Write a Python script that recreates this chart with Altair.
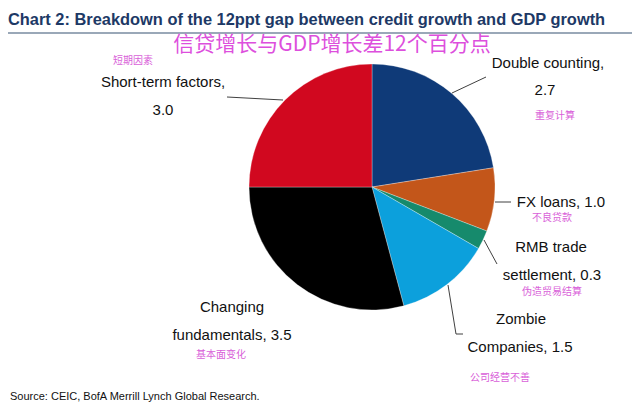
import altair as alt
import pandas as pd

# ---- data ----
categories = ["Double counting", "FX loans", "RMB trade settlement", "Zombie Companies",
              "Changing fundamentals", "Short-term factors"]
values = [2.7, 1.0, 0.3, 1.5, 3.5, 3.0]
colors = ["#0f3a78", "#c3561a", "#168a6c", "#0ca0dc", "#000000", "#d1081f"]

title_text = "Chart 2: Breakdown of the 12ppt gap between credit growth and GDP growth"
subtitle_cn = "信贷增长与GDP增长差12个百分点"
source_text = "Source: CEIC, BofA Merrill Lynch Global Research."

# label lines (English) and Chinese notes
label_lines = [
    ["Short-term factors,", "3.0"],
    ["Double counting,", "2.7"],
    ["FX loans, 1.0"],
    ["RMB trade", "settlement, 0.3"],
    ["Zombie", "Companies, 1.5"],
    ["Changing", "fundamentals, 3.5"],
]
cn_notes = ["短期因素", "重复计算", "不良贷款", "伪造贸易结算", "公司经营不善", "基本面变化"]

# ---- layout (page pixel coordinates) ----
OFF = 8
W, H = 624, 397
CX, CY, R = 372, 187, 123

label_pos = [
    [(163, 82), (163, 110)],
    [(548, 63), (545, 90)],
    [(561, 202)],
    [(551, 247), (552, 275)],
    [(521, 319), (520, 347)],
    [(232, 307), (232, 335)],
]
cn_pos = [(133, 61), (555, 116), (552, 218), (552, 292), (500, 378), (221, 355)]

leader_segments = [
    (227, 97, 283, 100),
    (452, 93, 486, 77),
    (495, 202, 511, 202),
    (484, 240, 497, 264),
    (448, 285, 456, 334),
    (456, 334, 463, 334),
]

pie_df = pd.DataFrame({"cat": categories, "value": values, "idx": list(range(len(values)))})

pie = alt.Chart(pie_df).mark_arc(radius=R, stroke="white", strokeWidth=0.3).encode(
    theta=alt.Theta("value:Q", stack=True),
    color=alt.Color("cat:N", scale=alt.Scale(domain=categories, range=colors), legend=None),
    order=alt.Order("idx:Q"),
    x=alt.value(CX - OFF),
    y=alt.value(CY - OFF),
)

rows = []
for lines, poss in zip(label_lines, label_pos):
    for t, (px, py) in zip(lines, poss):
        rows.append({"t": t, "px": px - OFF, "py": py - OFF})
lab_df = pd.DataFrame(rows)
labels = alt.Chart(lab_df).mark_text(
    font="Liberation Sans", fontSize=15, color="#111111", align="center", baseline="middle"
).encode(
    x=alt.X("px:Q", scale=None), y=alt.Y("py:Q", scale=None), text="t:N"
)

cn_df = pd.DataFrame({"t": cn_notes, "px": [p[0] - OFF for p in cn_pos], "py": [p[1] - OFF for p in cn_pos]})
cn = alt.Chart(cn_df).mark_text(
    font="Noto Sans CJK SC", fontSize=10, color="#d95fd9", align="center", baseline="middle"
).encode(
    x=alt.X("px:Q", scale=None), y=alt.Y("py:Q", scale=None), text="t:N"
)

seg_df = pd.DataFrame([{"x": a - OFF, "y": b - OFF, "x2": c - OFF, "y2": d - OFF} for a, b, c, d in leader_segments])
leaders = alt.Chart(seg_df).mark_rule(color="#404040", strokeWidth=1).encode(
    x=alt.X("x:Q", scale=None), y=alt.Y("y:Q", scale=None),
    x2="x2:Q", y2="y2:Q",
)

title = alt.Chart(pd.DataFrame({"t": [title_text]})).mark_text(
    font="Liberation Sans", fontWeight="bold", fontSize=16.4, color="#1d3966",
    align="left", baseline="alphabetic"
).encode(x=alt.value(8 - OFF), y=alt.value(25 - OFF), text="t:N")

title_rule = alt.Chart(pd.DataFrame({"a": [0]})).mark_rule(color="#9aa8b8", strokeWidth=2).encode(
    x=alt.value(8 - OFF), x2=alt.value(632 - OFF), y=alt.value(33 - OFF)
)

sub = alt.Chart(pd.DataFrame({"t": [subtitle_cn]})).mark_text(
    font="Noto Sans CJK SC", fontSize=21, color="#dd4fdd", align="center", baseline="middle"
).encode(x=alt.value(332 - OFF), y=alt.value(45 - OFF), text="t:N")

source = alt.Chart(pd.DataFrame({"t": [source_text]})).mark_text(
    font="Liberation Sans", fontSize=11, color="#111111", align="left", baseline="middle"
).encode(x=alt.value(10 - OFF), y=alt.value(397 - OFF), text="t:N")

chart = alt.layer(pie, leaders, labels, cn, title_rule, title, sub, source).properties(
    width=W, height=H, autosize=alt.AutoSizeParams(type="none"), padding=0, background="white"
).configure_view(stroke=None)

chart.save("out.html", embed_options={"renderer": "svg", "actions": False})
